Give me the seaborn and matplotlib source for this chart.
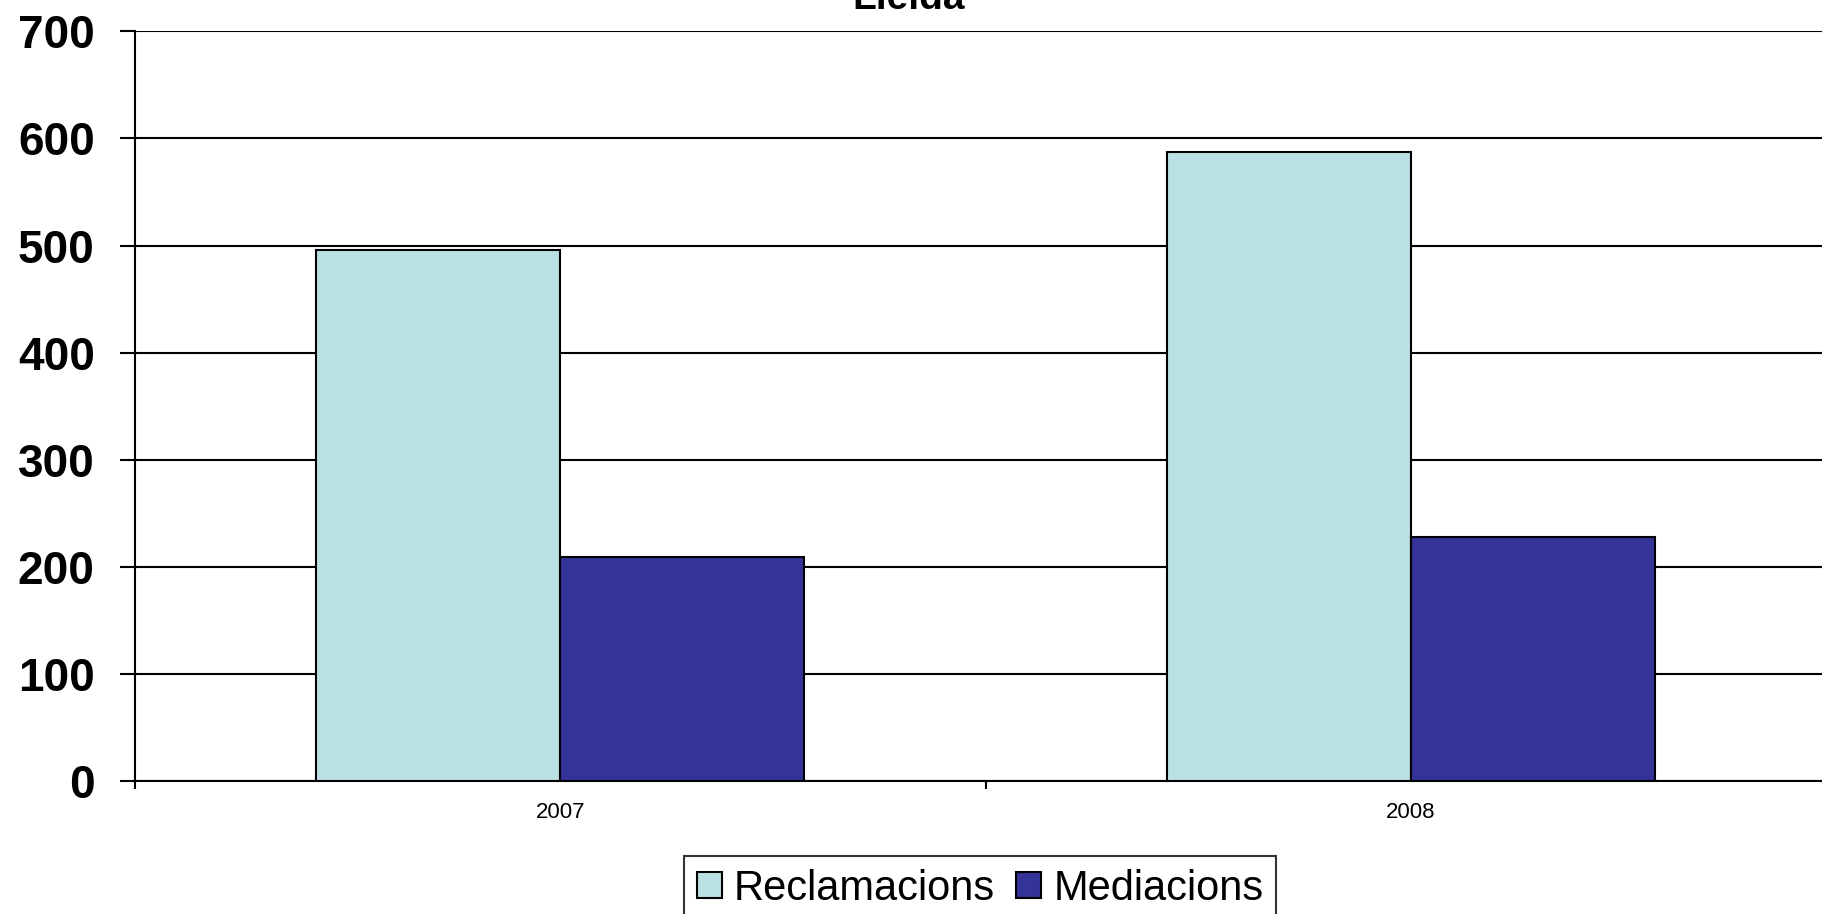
import matplotlib
matplotlib.use("Agg")
import matplotlib.pyplot as plt
import seaborn as sns
import pandas as pd

years = ["2007", "2008"]
reclamacions = [496, 587]
mediacions = [209, 228]
series_names = ["Reclamacions", "Mediacions"]
y_ticks = [0, 100, 200, 300, 400, 500, 600, 700]
title = "Lleida"

df = pd.DataFrame({
    "Any": years * 2,
    "Valor": reclamacions + mediacions,
    "Serie": [series_names[0]] * len(years) + [series_names[1]] * len(years),
})

sns.set_theme(style="white")
plt.rcParams["font.family"] = ["Liberation Sans", "DejaVu Sans"]
plt.rcParams["text.color"] = "black"
plt.rcParams["xtick.color"] = "black"
plt.rcParams["ytick.color"] = "black"
plt.rcParams["axes.labelcolor"] = "black"

W, H = 1822, 914
fig = plt.figure(figsize=(W / 100, H / 100), dpi=100)
left, right, top, bottom = 135, 1836, 31.4, 781
ax = fig.add_axes([left / W, 1 - bottom / H, (right - left) / W, (bottom - top) / H])

sns.barplot(data=df, x="Any", y="Valor", hue="Serie", order=years,
            hue_order=series_names, palette=["#BBE0E3", "#333399"],
            width=0.574, edgecolor="black", linewidth=1.5, ax=ax,
            saturation=1, zorder=3)

ax.set_xlim(-0.5, 1.5)
ax.set_ylim(0, 700)
ax.set_yticks(y_ticks)
ax.set_yticklabels([str(v) for v in y_ticks], fontsize=33, fontweight="bold", color="black")
ax.tick_params(axis="y", length=11, width=1.5, color="black", pad=18,
               direction="out", left=True, labelcolor="black")
ax.set_xticks(range(len(years)))
ax.set_xticklabels(years, fontsize=16, color="black")
ax.tick_params(axis="x", which="major", length=0, pad=15, labelcolor="black")
ax.set_xticks([-0.5, 0.5, 1.5], minor=True)
ax.tick_params(axis="x", which="minor", length=6, width=1.5, color="black",
               direction="out", bottom=True)
ax.set_xlabel("")
ax.set_ylabel("")

ax.yaxis.grid(True, color="black", linewidth=1.5, zorder=0)
ax.set_axisbelow(True)
for s in ["top", "right"]:
    ax.spines[s].set_visible(False)
for s in ["left", "bottom"]:
    ax.spines[s].set_color("black")
    ax.spines[s].set_linewidth(1.5)

handles, labels = ax.get_legend_handles_labels()
if ax.get_legend() is not None:
    ax.get_legend().remove()
leg = fig.legend(handles, labels, loc="upper left",
                 bbox_to_anchor=(684 / W, 1 - 856 / H), ncol=2,
                 fontsize=30, frameon=True, fancybox=False,
                 handlelength=0.6, handleheight=0.6, handletextpad=0.3,
                 columnspacing=0.5, borderpad=0.3, borderaxespad=0)
leg.get_frame().set_edgecolor("black")
leg.get_frame().set_linewidth(1.5)
for t in leg.get_texts():
    t.set_color("black")

fig.text(909 / W, 1 - 9 / H, title, ha="center", va="baseline",
         fontsize=28, fontweight="bold", color="black")

fig.savefig("out.png", dpi=100)
